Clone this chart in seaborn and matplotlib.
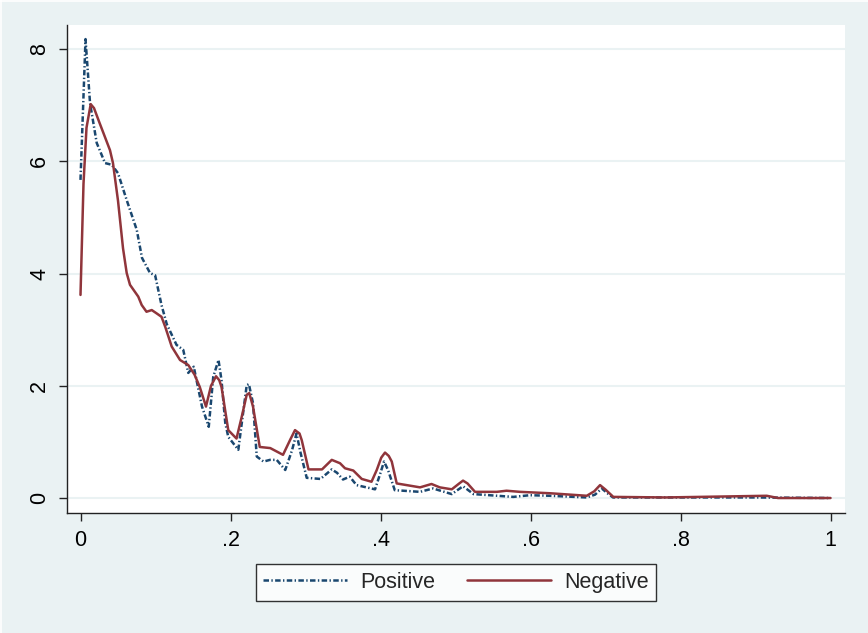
import pandas as pd
import matplotlib
matplotlib.use("Agg")
import matplotlib.pyplot as plt
from matplotlib.lines import Line2D
import seaborn as sns

# kernel density values
pos_x = [0.0, 0.0067, 0.0127, 0.0216, 0.0327, 0.0416, 0.050, 0.0616, 0.075, 0.082,
         0.0927, 0.0995, 0.108, 0.115, 0.128, 0.137, 0.1437, 0.151, 0.162, 0.171,
         0.177, 0.184, 0.188, 0.193, 0.197, 0.2104, 0.2216, 0.2245, 0.230, 0.235,
         0.244, 0.2527, 0.2616, 0.273, 0.282, 0.288, 0.2935, 0.3016, 0.320, 0.335,
         0.342, 0.350, 0.359, 0.368, 0.3927, 0.400, 0.4047, 0.410, 0.419, 0.4527,
         0.470, 0.495, 0.510, 0.524, 0.577, 0.599, 0.626, 0.675, 0.686, 0.695,
         0.703, 0.71, 0.8, 0.9, 1.0]
pos_y = [5.67, 8.18, 7.04, 6.33, 5.97, 5.94, 5.79, 5.31, 4.78, 4.28,
         4.01, 3.97, 3.44, 3.10, 2.73, 2.64, 2.23, 2.34, 1.63, 1.27,
         2.16, 2.46, 2.1, 1.34, 1.09, 0.86, 2.01, 2.03, 1.69, 0.74,
         0.65, 0.68, 0.68, 0.50, 0.85, 1.15, 0.8, 0.36, 0.34, 0.51,
         0.45, 0.33, 0.38, 0.23, 0.155, 0.45, 0.65, 0.5, 0.14, 0.11,
         0.17, 0.07, 0.21, 0.07, 0.02, 0.05, 0.04, 0.01, 0.06, 0.17,
         0.08, 0.01, 0.01, 0.01, 0.0]

neg_x = [0.0, 0.004, 0.008, 0.0136, 0.018, 0.025, 0.0393, 0.0433, 0.050, 0.0567,
         0.0616, 0.066, 0.077, 0.0816, 0.088, 0.095, 0.1016, 0.108, 0.113, 0.1216,
         0.1327, 0.1437, 0.152, 0.159, 0.1673, 0.174, 0.1807, 0.185, 0.188, 0.197,
         0.208, 0.215, 0.2216, 0.225, 0.230, 0.239, 0.253, 0.270, 0.280, 0.286,
         0.292, 0.295, 0.304, 0.322, 0.335, 0.346, 0.3527, 0.3637, 0.375, 0.388,
         0.395, 0.401, 0.406, 0.411, 0.415, 0.4216, 0.4527, 0.468, 0.479, 0.495,
         0.505, 0.510, 0.516, 0.526, 0.555, 0.568, 0.586, 0.626, 0.675, 0.685,
         0.6927, 0.70, 0.7104, 0.78, 0.915, 0.93, 1.0]
neg_y = [3.62, 5.6, 6.6, 7.02, 6.95, 6.7, 6.2, 5.97, 5.3, 4.45,
         4.01, 3.80, 3.59, 3.44, 3.32, 3.35, 3.29, 3.23, 3.05, 2.70,
         2.46, 2.37, 2.2, 1.98, 1.63, 2.0, 2.17, 2.1, 1.98, 1.21,
         1.06, 1.45, 1.84, 1.87, 1.63, 0.91, 0.89, 0.77, 1.05, 1.21,
         1.15, 1.03, 0.51, 0.51, 0.68, 0.62, 0.53, 0.49, 0.34, 0.29,
         0.50, 0.72, 0.81, 0.75, 0.65, 0.26, 0.19, 0.25, 0.19, 0.155,
         0.26, 0.31, 0.26, 0.11, 0.11, 0.13, 0.11, 0.085, 0.04, 0.12,
         0.23, 0.15, 0.02, 0.01, 0.04, 0.0, 0.0]

x_ticks = [0, 0.2, 0.4, 0.6, 0.8, 1.0]
x_labels = ["0", ".2", ".4", ".6", ".8", "1"]
y_ticks = [0, 2, 4, 6, 8]

df = pd.concat([
    pd.DataFrame({"x": pos_x, "density": pos_y, "group": "Positive"}),
    pd.DataFrame({"x": neg_x, "density": neg_y, "group": "Negative"}),
])

bg = "#EAF2F3"
sns.set_style("white")
plt.rcParams["font.family"] = ["Liberation Sans", "DejaVu Sans"]

fig = plt.figure(figsize=(8.68, 6.33), dpi=100, facecolor=bg)
# thin white edge at top/left like the Stata export
fig.add_artist(Line2D([0, 1], [0.999, 0.999], color="white", lw=1.2, transform=fig.transFigure))
fig.add_artist(Line2D([0.0008, 0.0008], [0, 1], color="white", lw=1.2, transform=fig.transFigure))

ax = fig.add_axes([67 / 868, 1 - 513 / 633, 778 / 868, 488 / 633])
ax.set_facecolor("white")

sns.lineplot(data=df, x="x", y="density", hue="group", style="group",
             palette={"Positive": "#1A476F", "Negative": "#90353B"},
             dashes={"Positive": (2.2, 0.95, 0.55, 0.95), "Negative": ""},
             linewidth=1.8, sort=False, estimator=None, ax=ax)

ax.set_xlim(-0.018, 1.0193)
ax.set_ylim(-0.267, 8.431)
ax.set_xticks(x_ticks)
ax.set_xticklabels(x_labels)
ax.set_yticks(y_ticks)
ax.set_yticklabels([str(v) for v in y_ticks], rotation=90, va="center")
ax.set_xlabel("")
ax.set_ylabel("")
ax.grid(axis="y", color=bg, linewidth=1.5)
ax.set_axisbelow(True)
for s in ["top", "right"]:
    ax.spines[s].set_visible(False)
for s in ["left", "bottom"]:
    ax.spines[s].set_color("#222222")
    ax.spines[s].set_linewidth(1.0)
ax.tick_params(axis="both", direction="out", length=6, width=1, color="#222222",
               labelsize=15.5, labelcolor="black", pad=6, left=True, bottom=True)

handles, labels = ax.get_legend_handles_labels()
leg = ax.legend(handles, labels, loc="center", bbox_to_anchor=(0.5, -0.1424), ncol=2,
                frameon=True, fancybox=False, fontsize=15.5, handlelength=3.9,
                columnspacing=1.5, handletextpad=0.6, borderpad=0.35)
leg.get_frame().set_edgecolor("black")
leg.get_frame().set_linewidth(1.0)

fig.savefig("out.png", dpi=100, facecolor=bg)
